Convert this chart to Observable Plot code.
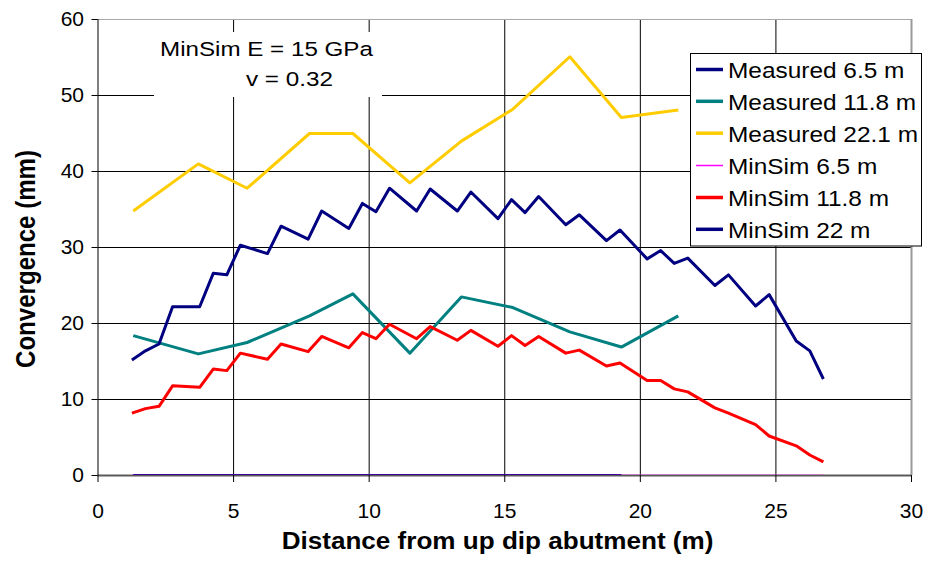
<!DOCTYPE html>
<html><head><meta charset="utf-8">
<script src="https://cdn.jsdelivr.net/npm/d3@7"></script>
<script src="https://cdn.jsdelivr.net/npm/@observablehq/plot@0.6"></script>
<style>
html,body{margin:0;padding:0;background:#fff;}
#chart svg{display:block;}
</style>
</head><body><div id="chart"></div>
<script>
// ---------- data ----------
const xTicks = [0, 5, 10, 15, 20, 25, 30];
const yTicks = [0, 10, 20, 30, 40, 50, 60];

const measuredX = [1.3, 3.7, 5.5, 7.8, 9.4, 11.5, 13.4, 15.3, 17.4, 19.3, 21.4];
const measured65X = [1.3, 3.7, 5.5, 7.8, 9.4, 11.5, 13.4, 15.3, 17.4, 19.3];
const measured65 = [0, 0, 0, 0, 0, 0, 0, 0, 0, 0];
const measured118 = [18.4, 16.0, 17.5, 21.0, 23.9, 16.1, 23.5, 22.1, 18.9, 16.9, 21.0];
const measured221 = [34.8, 41.0, 37.8, 45.0, 45.0, 38.5, 44.0, 48.2, 55.1, 47.1, 48.1];

const minSimX = [1.25, 1.75, 2.25, 2.75, 3.75, 4.25, 4.75, 5.25, 6.25, 6.75, 7.75, 8.25, 9.25,
  9.75, 10.25, 10.75, 11.75, 12.25, 13.25, 13.75, 14.75, 15.25, 15.75, 16.25, 17.25, 17.75,
  18.75, 19.25, 20.25, 20.75, 21.25, 21.75, 22.75, 23.25, 24.25, 24.75, 25.75, 26.25, 26.75];
const minSim65 = [0, 0, 0, 0, 0, 0, 0, 0, 0, 0, 0, 0, 0, 0, 0, 0, 0, 0, 0, 0,
  0, 0, 0, 0, 0, 0, 0, 0, 0, 0, 0, 0, 0, 0, 0, 0, 0, 0, 0];
const minSim118 = [8.2, 8.8, 9.1, 11.8, 11.6, 14.0, 13.8, 16.1, 15.3, 17.3, 16.3, 18.3, 16.8,
  18.8, 18.0, 19.9, 18.0, 19.6, 17.8, 19.1, 17.0, 18.4, 17.1, 18.3, 16.1, 16.5,
  14.4, 14.8, 12.5, 12.5, 11.4, 11.0, 8.9, 8.2, 6.7, 5.2, 3.9, 2.7, 1.8];
const minSim22 = [15.2, 16.4, 17.3, 22.2, 22.2, 26.6, 26.4, 30.3, 29.2, 32.8, 31.1, 34.8, 32.5,
  35.8, 34.7, 37.8, 34.8, 37.7, 34.8, 37.3, 33.8, 36.3, 34.6, 36.7, 33.0, 34.3,
  30.9, 32.3, 28.5, 29.6, 27.9, 28.6, 25.0, 26.4, 22.3, 23.8, 17.7, 16.4, 12.7];

const seriesNames = ["Measured 6.5 m", "Measured 11.8 m", "Measured 22.1 m", "MinSim 6.5 m", "MinSim 11.8 m", "MinSim 22 m"];
const seriesX = [measured65X, measuredX, measuredX, minSimX, minSimX, minSimX];
const seriesY = [measured65, measured118, measured221, minSim65, minSim118, minSim22];
const seriesColors = ["#000080", "#008080", "#FFCC00", "#FF00FF", "#FF0000", "#000080"];
const seriesWidths = [3, 3, 3, 1.5, 3, 3];

const annotationLines = ["MinSim E = 15 GPa", "v = 0.32"];
const xTitle = "Distance from up dip abutment (m)";
const yTitle = "Convergence (mm)";

// ---------- chart ----------
const FONT = "'Liberation Sans', Arial, Helvetica, sans-serif";
const series = seriesNames.map((name, i) => ({
  name, color: seriesColors[i], width: seriesWidths[i],
  rows: seriesX[i].map((x, j) => ({x, y: seriesY[i][j]}))
}));

const lineMarks = series.map(s => Plot.line(s.rows, {
  x: "x", y: "y", stroke: s.color, strokeWidth: s.width,
  strokeLinejoin: "round", strokeLinecap: "butt", clip: "frame"
}));

const svg = Plot.plot({
  width: 929, height: 569,
  marginLeft: 97.5, marginRight: 18, marginTop: 19, marginBottom: 94,
  style: {fontFamily: FONT, fontSize: "21px", background: "#fff", color: "#000"},
  x: {domain: [0, 30]},
  y: {domain: [0, 60]},
  marks: [
    Plot.gridX(xTicks.slice(1, -1), {stroke: "#000", strokeOpacity: 1, strokeWidth: 1}),
    Plot.gridY(yTicks.slice(1, -1), {stroke: "#000", strokeOpacity: 1, strokeWidth: 1}),
    Plot.ruleY([60], {stroke: "#a8a8a8", strokeWidth: 1}),
    Plot.ruleX([30], {stroke: "#999", strokeWidth: 2}),
    Plot.ruleY([0], {stroke: "#5a5a5a", strokeWidth: 2}),
    Plot.axisX(xTicks, {tickSize: 7, tickPadding: 21, fontSize: 21, label: null, stroke: "#000"}),
    Plot.axisY(yTicks, {tickSize: 6, tickPadding: 8, fontSize: 21, label: null, stroke: "#000"}),
    Plot.ruleX([0], {stroke: "#000", strokeWidth: 1}),
    ...lineMarks
  ]
});
document.getElementById("chart").appendChild(svg);

const root = d3.select(svg);
const g = root.append("g");

function addText(parent, {x, y, text, size, weight = "normal", anchor = "start", sx = 1, width = null, rotate = false, sy = 1}) {
  const t = parent.append("text").text(text)
    .style("font-family", FONT).style("font-size", size + "px")
    .style("font-weight", weight).attr("text-anchor", anchor).attr("fill", "#000");
  const len = t.node().getComputedTextLength();
  if (rotate) {
    const s = width ? width / len : 1;
    t.attr("transform", `translate(${x},${y}) scale(${sx},${s}) rotate(-90)`);
  } else {
    const s = width ? width / len : sx;
    t.attr("transform", `translate(${x},${y}) scale(${s},1)`);
  }
  return t;
}

// annotation text box
g.append("rect").attr("x", 154).attr("y", 32).attr("width", 228).attr("height", 65).attr("fill", "#fff");
addText(g, {x: 160, y: 55.7, text: annotationLines[0], size: 20.5, width: 213});
addText(g, {x: 246, y: 86, text: annotationLines[1], size: 20.5, width: 87});

// legend
const lg = g.append("g");
lg.append("rect").attr("x", 690.5).attr("y", 53.5).attr("width", 231).attr("height", 192.5)
  .attr("fill", "#fff").attr("stroke", "#000").attr("stroke-width", 1);
const rowY = [69.5, 101.3, 133.2, 165.5, 197.5, 229.3];
series.forEach((s, i) => {
  lg.append("line").attr("x1", 696).attr("x2", 723).attr("y1", rowY[i]).attr("y2", rowY[i])
    .attr("stroke", s.color).attr("stroke-width", s.width === 3 ? 3.5 : 1.5);
  addText(lg, {x: 728, y: rowY[i] + 8.6, text: s.name, size: 22, sx: 1.11});
});

// axis titles
addText(g, {x: 497.5, y: 549, text: xTitle, size: 23, weight: "bold", anchor: "middle", width: 432});
addText(g, {x: 35, y: 259, text: yTitle, size: 24, weight: "bold", anchor: "middle", rotate: true, sx: 1.12, width: 218});
</script>
</body></html>
